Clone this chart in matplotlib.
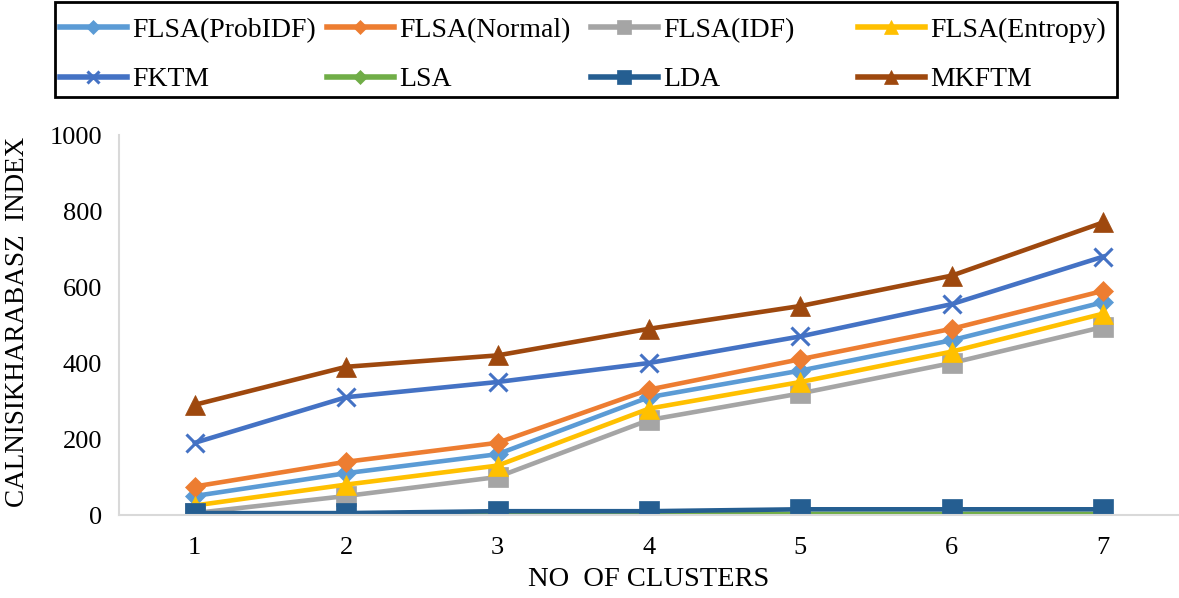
import matplotlib.pyplot as plt
from matplotlib.patches import Rectangle

plt.rcParams['font.family'] = ['Liberation Serif', 'DejaVu Serif']

clusters = [1, 2, 3, 4, 5, 6, 7]

flsa_probidf = [50, 110, 160, 310, 380, 460, 560]
flsa_normal = [75, 140, 190, 330, 410, 490, 590]
flsa_idf = [5, 50, 100, 250, 320, 400, 495]
flsa_entropy = [25, 80, 130, 280, 350, 430, 530]
fktm = [190, 310, 350, 400, 470, 555, 680]
lsa = [2, 2, 2, 3, 3, 3, 3]
lda = [5, 5, 10, 10, 15, 15, 15]
mkftm = [290, 390, 420, 490, 550, 630, 770]

series = [
    ("FLSA(ProbIDF)", flsa_probidf, "#5B9BD5", "D", 10),
    ("FLSA(Normal)", flsa_normal, "#ED7D31", "D", 10),
    ("FLSA(IDF)", flsa_idf, "#A5A5A5", "s", 14),
    ("FLSA(Entropy)", flsa_entropy, "#FFC000", "^", 14),
    ("FKTM", fktm, "#4472C4", "x", 13),
    ("LSA", lsa, "#70AD47", "D", 10),
    ("LDA", lda, "#255E91", "s", 15),
    ("MKFTM", mkftm, "#9E480E", "^", 14),
]

fig = plt.figure(figsize=(11.79, 5.98), dpi=100)
ax = fig.add_axes([119 / 1179, 1 - 515 / 598, 1 - 119 / 1179, 380 / 598])

lines = []
for name, vals, col, mk, ms in series:
    ln, = ax.plot(clusters, vals, color=col, lw=3.3, marker=mk, markersize=ms,
                  markeredgewidth=2.2 if mk == "x" else 0.5, markeredgecolor=col,
                  label=name)
    lines.append(ln)

ax.set_xlim(0.5, 7.5)
ax.set_ylim(0, 1000)
ax.set_xticks(clusters)
ax.set_yticks(range(0, 1001, 200))
ax.tick_params(length=0, labelsize=19)
ax.tick_params(axis='y', pad=12)
ax.tick_params(axis='x', pad=16)
for s in ["top", "right"]:
    ax.spines[s].set_visible(False)
for s in ["left", "bottom"]:
    ax.spines[s].set_color("#D9D9D9")
    ax.spines[s].set_linewidth(1.5)

fig.text(18 / 1179, 1 - 322 / 598, "CALNISIKHARABASZ  INDEX", rotation=90,
         ha="center", va="center", fontsize=19.5)
fig.text(649 / 1179, 1 - 580 / 598, "NO  OF CLUSTERS", ha="center",
         va="center", fontsize=20.5)

# Excel-style legend: equal-width columns filled row by row, one box round all
col_x = [60, 327, 591, 858]
for c in range(4):
    pair = [lines[c], lines[c + 4]]
    leg = fig.legend(pair, [l.get_label() for l in pair], loc="center left",
                     bbox_to_anchor=(col_x[c] / 1179, 1 - 55 / 598),
                     frameon=False, fontsize=20, handlelength=2.4,
                     handletextpad=0.2, borderpad=0, borderaxespad=0,
                     labelspacing=0.85)
    for h in leg.legend_handles:
        h.set_markersize(h.get_markersize() * 0.7)
        h.set_linewidth(4)
fig.add_artist(Rectangle((55 / 1179, 1 - 97 / 598), 1062 / 1179, 95 / 598,
                         transform=fig.transFigure, fill=False,
                         edgecolor="black", linewidth=2))

fig.savefig("out.png", dpi=100)
